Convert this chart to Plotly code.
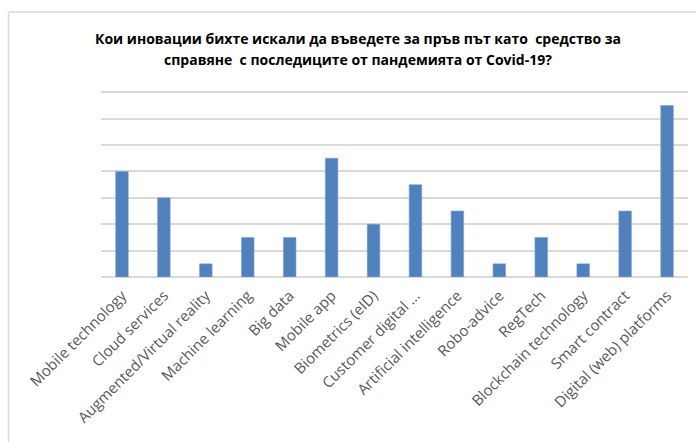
import plotly.graph_objects as go

# Survey answers: innovations to be introduced for the first time
categories = [
    "Mobile technology", "Cloud services", "Augmented/Virtual reality",
    "Machine learning", "Big data", "Mobile app", "Biometrics (eID)",
    "Customer digital ...", "Artificial intelligence", "Robo-advice",
    "RegTech", "Blockchain technology", "Smart contract",
    "Digital (web) platforms",
]
counts = [8, 6, 1, 3, 3, 9, 4, 7, 5, 1, 3, 1, 5, 13]
y_ticks = [0, 2, 4, 6, 8, 10, 12, 14]

title_lines = [
    "Кои иновации бихте искали да въведете за пръв път като  средство за",
    "справяне  с последиците от пандемията от Covid-19?",
]

W, H = 696, 442
L, R, T, B = 101, 8, 91, 165
pw, ph = W - L - R, H - T - B


def px_x(x):
    return (x - L) / pw


def px_y(y):
    return (H - B - y) / ph


fig = go.Figure(
    go.Bar(
        x=categories,
        y=counts,
        marker=dict(color="#4F81BD", line=dict(color="#7FA2CF", width=0.6)),
        hoverinfo="x+y",
    )
)

fig.update_layout(
    width=W,
    height=H,
    margin=dict(l=L, r=R, t=T, b=B),
    paper_bgcolor="white",
    plot_bgcolor="white",
    bargap=0.70,
    showlegend=False,
    font=dict(family="Open Sans, DejaVu Sans, sans-serif", color="#595959"),
)

fig.update_xaxes(
    tickangle=-45,
    tickfont=dict(size=15, color="#595959"),
    ticklabelstandoff=6,
    showgrid=False,
    showline=False,
    ticks="",
)
fig.update_yaxes(
    range=[0, 14.1],
    tickvals=y_ticks,
    showticklabels=False,
    showgrid=True,
    gridcolor="#D9D9D9",
    gridwidth=1.5,
    zeroline=True,
    zerolinecolor="#D9D9D9",
    zerolinewidth=1.5,
    showline=False,
    ticks="",
)

# Title, two centred bold lines
for i, line in enumerate(title_lines):
    fig.add_annotation(
        text="<b>" + line + "</b>",
        x=px_x(358),
        y=px_y(38 + 22 * i),
        xref="paper",
        yref="paper",
        xanchor="center",
        yanchor="middle",
        showarrow=False,
        font=dict(size=14, color="#000000", family="Open Sans, DejaVu Sans, sans-serif"),
    )

# Chart-area frame (top and left edges visible)
frame = dict(color="#D9D9D9", width=1.5)
fig.add_shape(type="line", xref="paper", yref="paper",
              x0=px_x(8.5), x1=px_x(W), y0=px_y(12), y1=px_y(12), line=frame)
fig.add_shape(type="line", xref="paper", yref="paper",
              x0=px_x(8.5), x1=px_x(8.5), y0=px_y(12), y1=px_y(H), line=frame)

fig.write_html("out.html")
